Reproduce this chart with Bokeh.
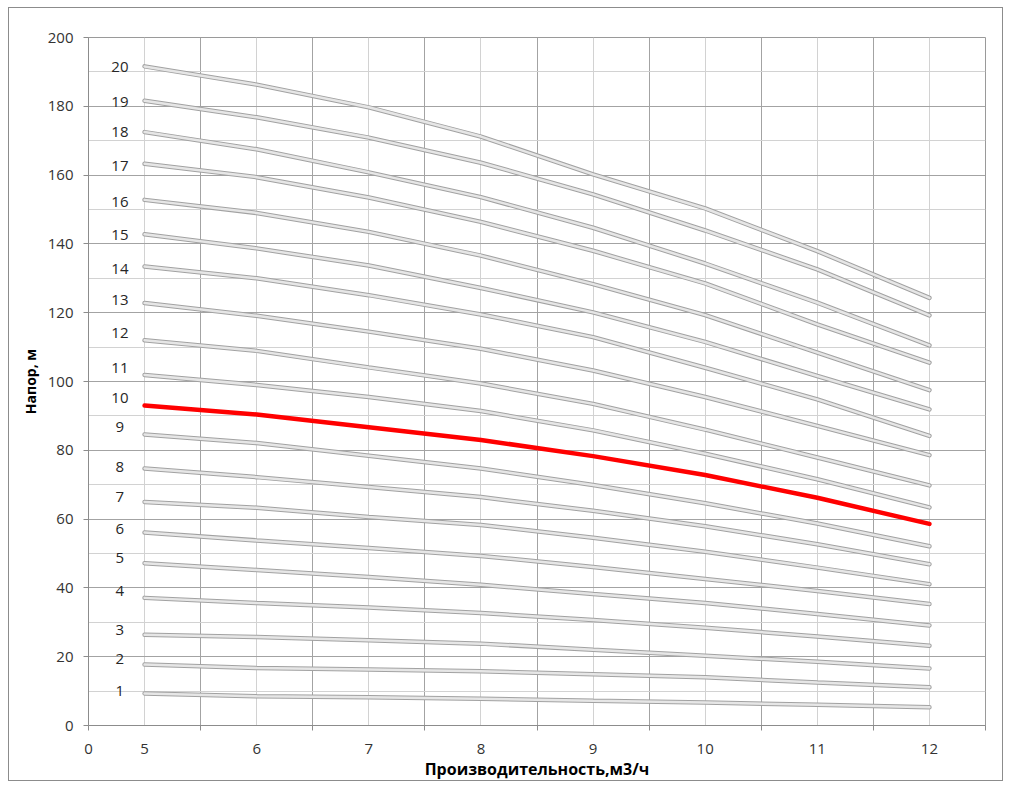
from bokeh.plotting import figure
from bokeh.models import FixedTicker, Range1d
from bokeh.core.properties import value
from bokeh.embed import file_html
from bokeh.resources import INLINE

# ---- data -------------------------------------------------------------
flow = [5, 6, 7, 8, 9, 10, 11, 12]  # м3/ч

head_01 = [9.3, 8.5, 8.2, 7.8, 7.2, 6.7, 6.0, 5.3]
head_02 = [17.7, 16.7, 16.3, 15.8, 14.9, 14.0, 12.5, 11.1]
head_03 = [26.4, 25.7, 24.8, 23.8, 22.0, 20.3, 18.5, 16.6]
head_04 = [37.1, 35.6, 34.3, 32.7, 30.7, 28.4, 25.9, 23.2]
head_05 = [47.2, 45.2, 43.2, 40.9, 38.2, 35.6, 32.4, 29.1]
head_06 = [56.1, 53.8, 51.6, 49.3, 46.1, 42.6, 39.1, 35.3]
head_07 = [65.0, 63.3, 60.6, 58.3, 54.6, 50.5, 45.9, 41.1]
head_08 = [74.7, 72.2, 69.3, 66.4, 62.4, 57.9, 52.7, 46.9]
head_09 = [84.6, 82.1, 78.4, 74.7, 69.9, 64.6, 58.7, 52.1]
head_10 = [93.0, 90.4, 86.7, 83.0, 78.3, 72.8, 66.2, 58.6]
head_11 = [101.9, 99.0, 95.5, 91.4, 85.8, 79.0, 71.6, 63.4]
head_12 = [112.0, 108.9, 104.1, 99.4, 93.5, 86.0, 77.9, 69.8]
head_13 = [122.8, 119.1, 114.5, 109.5, 103.2, 95.5, 87.1, 78.6]
head_14 = [133.4, 130.0, 125.1, 119.5, 112.9, 104.0, 94.8, 84.2]
head_15 = [142.8, 138.7, 133.7, 127.2, 120.1, 111.5, 101.6, 91.9]
head_16 = [152.8, 149.0, 143.5, 136.6, 128.3, 119.3, 108.4, 97.5]
head_17 = [163.3, 159.4, 153.5, 146.4, 138.0, 128.5, 116.6, 105.5]
head_18 = [172.5, 167.5, 160.8, 153.6, 144.7, 134.3, 122.9, 110.5]
head_19 = [181.6, 176.8, 170.9, 163.6, 154.4, 143.9, 132.6, 119.2]
head_20 = [191.6, 186.3, 179.7, 171.2, 160.2, 150.3, 137.9, 124.3]

heads = [head_01, head_02, head_03, head_04, head_05, head_06, head_07,
         head_08, head_09, head_10, head_11, head_12, head_13, head_14,
         head_15, head_16, head_17, head_18, head_19, head_20]
highlighted = 10  # stage count drawn in red

stage_labels = [str(i) for i in range(1, 21)]
label_x = 4.78
label_y = [9.9, 19.4, 27.8, 39.1, 48.7, 57.1, 66.4, 75.1, 86.7, 95.1,
           103.8, 114.2, 123.8, 132.8, 142.6, 152.2, 162.6, 172.5, 181.2, 191.3]

x_tick_values = [4.5, 5, 6, 7, 8, 9, 10, 11, 12]
x_tick_labels = ["0", "5", "6", "7", "8", "9", "10", "11", "12"]
y_ticks = list(range(0, 201, 20))

# ---- figure -----------------------------------------------------------
FONT = "Open Sans"
p = figure(width=995, height=774, output_backend="svg", toolbar_location=None,
           x_range=Range1d(4.5, 12.5), y_range=Range1d(0, 200),
           min_border_left=79, min_border_right=19, min_border_top=29,
           min_border_bottom=55)
p.styles = {"border": "1px solid #8c8c8c", "margin-left": "8px",
            "margin-top": "7px"}
p.outline_line_color = "#9a9a9a"
p.background_fill_color = "white"
p.border_fill_color = "white"

# x axis
xa = p.xaxis[0]
xa.ticker = FixedTicker(ticks=x_tick_values,
                        minor_ticks=[4.5 + i for i in range(9)])
xa.major_label_overrides = dict(zip(x_tick_values, x_tick_labels))
xa.major_tick_out = 0
xa.major_tick_in = 0
xa.minor_tick_out = 5
xa.minor_tick_in = 0
xa.minor_tick_line_color = "#8c8c8c"
xa.axis_line_color = "#8c8c8c"
xa.major_label_standoff = 13
xa.axis_label = "Производительность,м3/ч"
xa.axis_label_standoff = 1
xa.axis_label_text_font = FONT
xa.axis_label_text_font_style = "bold"
xa.axis_label_text_font_size = "16px"
xa.axis_label_text_color = "#000000"
xa.major_label_text_font = FONT
xa.major_label_text_font_size = "15px"
xa.major_label_text_color = "#333333"

# y axis
ya = p.yaxis[0]
ya.ticker = FixedTicker(ticks=y_ticks, minor_ticks=[])
ya.major_tick_out = 5
ya.major_tick_in = 0
ya.minor_tick_out = 0
ya.minor_tick_in = 0
ya.major_tick_line_color = "#8c8c8c"
ya.axis_line_color = "#8c8c8c"
ya.major_label_standoff = 10
ya.axis_label = "Напор, м"
ya.axis_label_standoff = 5
ya.axis_label_text_font = FONT
ya.axis_label_text_font_style = "bold"
ya.axis_label_text_font_size = "14px"
ya.axis_label_text_color = "#000000"
ya.major_label_text_font = FONT
ya.major_label_text_font_size = "15px"
ya.major_label_text_color = "#333333"

# grids
p.xgrid.ticker = FixedTicker(ticks=[5.5 + i for i in range(7)],
                             minor_ticks=[5 + i for i in range(8)])
p.xgrid.grid_line_color = "#a3a3a3"
p.xgrid.minor_grid_line_color = "#d2d2d2"
p.ygrid.ticker = FixedTicker(ticks=y_ticks,
                             minor_ticks=list(range(10, 200, 20)))
p.ygrid.grid_line_color = "#a3a3a3"
p.ygrid.minor_grid_line_color = "#d2d2d2"

# curves
for i, h in enumerate(heads, start=1):
    if i == highlighted:
        continue
    p.line(flow, h, line_width=4.5, line_color="#a2a2a2", line_cap="round")
    p.line(flow, h, line_width=2.5, line_color="#e6e6e6", line_cap="round")
p.line(flow, heads[highlighted - 1], line_width=4.5, line_color="#ff0000",
       line_cap="round")

# stage labels
p.text(x=[label_x] * len(stage_labels), y=label_y, text=stage_labels,
       text_align="center", text_baseline="middle",
       text_font=value(FONT), text_font_size="15px", text_color="#262626")

open("out.html", "w").write(file_html(p, INLINE))
